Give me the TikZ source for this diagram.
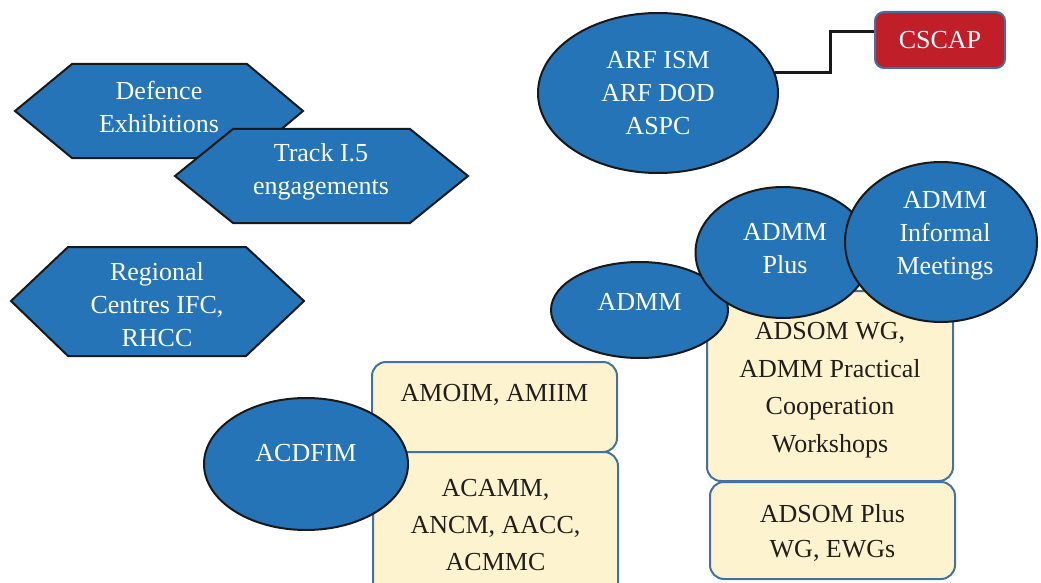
\documentclass[tikz,border=0pt]{standalone}
\usepackage{fontspec}
\setmainfont{Liberation Serif}
\usetikzlibrary{shapes.geometric}

\definecolor{forumblue}{RGB}{36,116,183}
\definecolor{forumred}{RGB}{192,30,40}
\definecolor{wgfill}{RGB}{253,243,206}
\definecolor{wgline}{RGB}{68,114,160}
\definecolor{wgtext}{RGB}{34,30,28}

\tikzset{
  hexa/.style={fill=forumblue, draw=black!90, line width=2pt, line join=miter},
  blob/.style={ellipse, fill=forumblue, draw=black!90, line width=2pt, inner sep=0pt},
  wgbox/.style={rectangle, rounded corners=14pt, fill=wgfill, draw=wgline, line width=2pt},
  wlabel/.style={text=white, align=center, inner sep=0pt},
  dlabel/.style={text=wgtext, align=center, inner sep=0pt, font=\fontsize{26}{37}\selectfont},
  link/.style={draw=black!90, line width=3pt}
}

\begin{document}
\begin{tikzpicture}[x=1pt, y=-1pt, font=\fontsize{26}{33}\selectfont]
    \useasboundingbox (0,0) rectangle (1041,583);
    \clip (0,0) rectangle (1041,583);

    % hexagons on the left
    \filldraw[hexa] (15,111) -- (72,64) -- (247,64) -- (303,111) -- (247,158) -- (72,158) -- cycle;
    \node[wlabel] (defence) at (159,107) {Defence\\Exhibitions};

    \filldraw[hexa] (175,176) -- (233,129) -- (410,129) -- (468,176) -- (410,223) -- (233,223) -- cycle;
    \node[wlabel] (track) at (321,172) {Track I.5\\engagements};

    \filldraw[hexa] (11,301) -- (68,247) -- (246,247) -- (304,301) -- (246,356) -- (68,356) -- cycle;
    \node[wlabel] (regional) at (157,305) {Regional\\Centres IFC,\\RHCC};

    % ARF and CSCAP
    \node[blob, minimum width=240pt, minimum height=160pt] (arf) at (658,93) {};
    \node[wlabel] (arftext) at (658,93) {ARF ISM\\ARF DOD\\ASPC};

    \node[wgbox, fill=forumred, rounded corners=9pt, minimum width=130pt, minimum height=56pt] (cscap) at (940,40) {};
    \node[wlabel] (cscaptext) at (940,40) {CSCAP};

    \draw[link] (arf.10) -- ++(55,0) |- ([yshift=8pt]cscap.west);

    % working groups
    \node[wgbox, minimum width=245pt, minimum height=90pt] (amoim) at (494.5,407) {};
    \node[dlabel] (amoimtext) at (494.5,395) {AMOIM, AMIIM};

    \node[wgbox, minimum width=245pt, minimum height=150pt] (acamm) at (495.5,527) {};
    \node[dlabel] (acammtext) at (495.5,525) {ACAMM,\\ANCM, AACC,\\ACMMC};

    \node[wgbox, minimum width=246pt, minimum height=190pt] (adsomwg) at (830,386) {};
    \node[dlabel, font=\fontsize{26}{37.5}\selectfont] (adsomwgtext) at (830,390) {ADSOM WG,\\ADMM Practical\\Cooperation\\Workshops};

    \node[wgbox, minimum width=245pt, minimum height=97pt] (adsomplus) at (832.5,530.5) {};
    \node[dlabel, font=\fontsize{26}{35}\selectfont] (adsomplustext) at (832.5,533) {ADSOM Plus\\WG, EWGs};

    % ADMM family
    \node[blob, minimum width=204pt, minimum height=132pt] (acdfim) at (306,464) {};
    \node[wlabel] (acdfimtext) at (306,453) {ACDFIM};

    \node[blob, minimum width=177pt, minimum height=96pt] (admm) at (639.5,310) {};
    \node[wlabel] (admmtext) at (639.5,302) {ADMM};

    \node[blob, minimum width=175pt, minimum height=131pt] (admmplus) at (783,252.5) {};
    \node[wlabel] (admmplustext) at (785,249) {ADMM\\Plus};

    \node[blob, minimum width=192pt, minimum height=160pt] (informal) at (941,242) {};
    \node[wlabel] (informaltext) at (945,236) {ADMM\\Informal\\Meetings};
\end{tikzpicture}
\end{document}
